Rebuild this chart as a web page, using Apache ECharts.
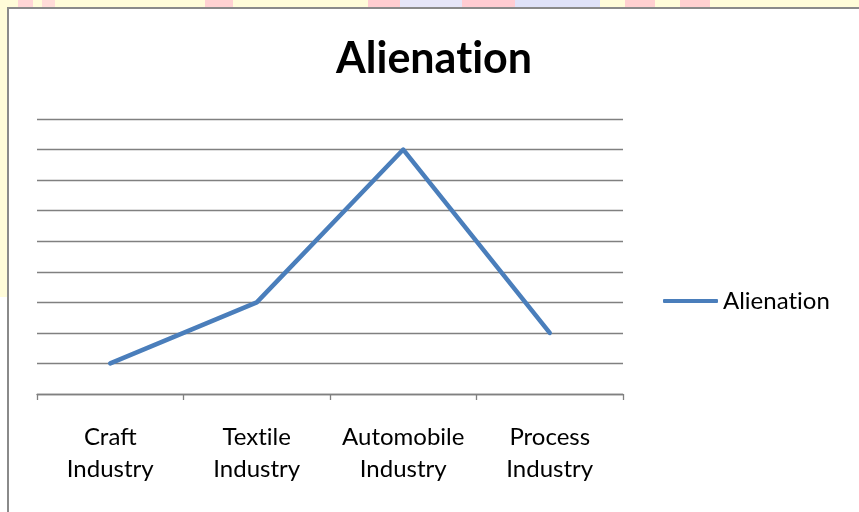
<!DOCTYPE html>
<html>
<head>
<meta charset="utf-8">
<script src="https://cdn.jsdelivr.net/npm/echarts@6/dist/echarts.min.js"></script>
<style>
  html, body { margin: 0; padding: 0; }
  body { width: 859px; height: 512px; position: relative; overflow: hidden; background: #ffffff; }
  .strip { position: absolute; }
  #frame { position: absolute; left: 7px; top: 7px; width: 850px; height: 510px;
           border-left: 2px solid #8a8a8a; border-top: 2px solid #8a8a8a; border-right: 2px solid #8a8a8a; background: #fff; }
  #chart { position: absolute; left: 0; top: 0; width: 859px; height: 512px; }
</style>
</head>
<body>
<div class="strip" style="left:0;top:0;width:859px;height:8px;background:#fffcd9"></div>
<div class="strip" style="left:0;top:0;width:8px;height:297px;background:#fffcd9"></div>
<div class="strip" style="left:18px;top:0;width:15px;height:7px;background:#ffd6d6"></div>
<div class="strip" style="left:42px;top:0;width:13px;height:7px;background:#ffdcd8"></div>
<div class="strip" style="left:205px;top:0;width:28px;height:7px;background:#ffd2d2"></div>
<div class="strip" style="left:368px;top:0;width:32px;height:7px;background:#ffcdd0"></div>
<div class="strip" style="left:400px;top:0;width:62px;height:7px;background:#e6e6f8"></div>
<div class="strip" style="left:462px;top:0;width:53px;height:7px;background:#ffccd2"></div>
<div class="strip" style="left:515px;top:0;width:85px;height:7px;background:#dfe2f8"></div>
<div class="strip" style="left:625px;top:0;width:30px;height:7px;background:#ffd0d0"></div>
<div class="strip" style="left:680px;top:0;width:30px;height:7px;background:#ffd0d0"></div>
<div id="frame"></div>
<div id="chart"></div>
<script>
const categories = ["Craft\nIndustry", "Textile\nIndustry", "Automobile\nIndustry", "Process\nIndustry"];
const seriesName = "Alienation";
const alienation = [1, 3, 8, 2];
const yMin = 0, yMax = 9, yInterval = 1;

// zero-width non-joiner keeps Lato from forming its "ti" ligature
const noLig = s => s.replace(/ti/g, 't\u200Ci');

const chart = echarts.init(document.getElementById('chart'), null, { renderer: 'canvas' });
chart.setOption({
  backgroundColor: 'transparent',
  animation: false,
  title: {
    text: noLig('Alienation'),
    left: 434, top: 38, textAlign: 'center', padding: 0,
    textStyle: { fontFamily: 'Lato', fontWeight: 'bold', fontSize: 43, color: '#000' }
  },
  legend: {
    data: [seriesName],
    formatter: name => noLig(name),
    left: 663, top: 289, padding: 0,
    icon: 'roundRect', itemWidth: 55, itemHeight: 4,
    itemStyle: { color: '#4a7ebb' },
    textStyle: { fontFamily: 'Lato', fontSize: 24, color: '#000' }
  },
  grid: { left: 37, right: 236, top: 119, bottom: 118, containLabel: false },
  xAxis: {
    type: 'category',
    data: categories,
    boundaryGap: true,
    axisLine: { lineStyle: { color: '#808080', width: 1.3 } },
    axisTick: { show: true, length: 6, lineStyle: { color: '#808080', width: 1.3 } },
    axisLabel: { fontFamily: 'Lato', fontSize: 24, lineHeight: 32, color: '#000', margin: 27, interval: 0,
                 formatter: v => noLig(v) },
    splitLine: { show: false }
  },
  yAxis: {
    type: 'value',
    min: yMin, max: yMax, interval: yInterval,
    axisLine: { show: false }, axisTick: { show: false }, axisLabel: { show: false },
    splitLine: { lineStyle: { color: '#808080', width: 1.3 } }
  },
  series: [{
    name: seriesName,
    type: 'line',
    data: alienation,
    symbol: 'none',
    lineStyle: { color: '#4a7ebb', width: 4.5, cap: 'round', join: 'round' },
    itemStyle: { color: '#4a7ebb' }
  }]
});
</script>
</body>
</html>
